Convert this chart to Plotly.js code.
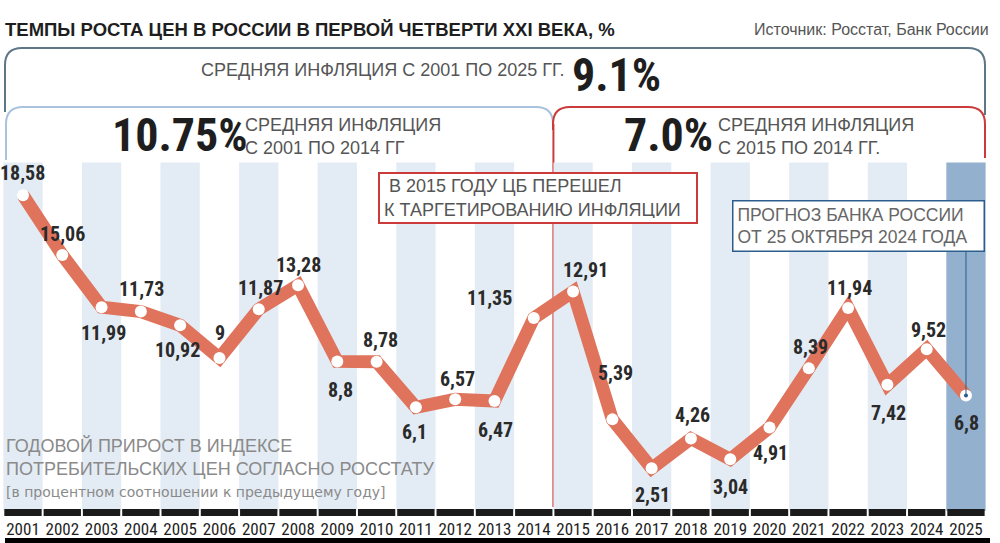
<!DOCTYPE html>
<html>
<head>
<meta charset="utf-8">
<script src="https://cdn.plot.ly/plotly-3.0.1.min.js"></script>
<style>html,body{margin:0;padding:0;background:#fff;}#chart{width:1000px;height:543px;}</style>
</head>
<body>
<div id="chart"></div>
<script>
// ---- DATA ----
const years = [2001, 2002, 2003, 2004, 2005, 2006, 2007, 2008, 2009, 2010, 2011, 2012, 2013,
               2014, 2015, 2016, 2017, 2018, 2019, 2020, 2021, 2022, 2023, 2024, 2025];
const cpiGrowth = [18.58, 15.06, 11.99, 11.73, 10.92, 9, 11.87, 13.28, 8.8, 8.78, 6.1, 6.57, 6.47,
                   11.35, 12.91, 5.39, 2.51, 4.26, 3.04, 4.91, 8.39, 11.94, 7.42, 9.52, 6.8];
const yearLabels = ["2001", "2002", "2003", "2004", "2005", "2006", "2007", "2008", "2009", "2010",
                    "2011", "2012", "2013", "2014", "2015", "2016", "2017", "2018", "2019", "2020",
                    "2021", "2022", "2023", "2024", "2025"];
const forecastYear = 2025;
const policyChangeYear = 2015;
const avgAll = "9.1%";
const avgFirst = "10.75%";
const avgSecond = "7.0%";

// ---- STYLE (label offsets in px, not data) ----
const labelDx = [0, 0, 2, 1, -3, 1, 2, 0, 3, 4, -1, 2, 1, -44, 12, 3, 1, 2, 0, 1, 2, 1, 1, 2, 1];
const labelDy = [22, 21, -26, 23, -25, 25, 21, 20, -29, 22, -25, 20, -29, 20, 22, 46, -27, 24, -28, -25, 21, 20, -28, 19, -28];

const NARROW = '"Liberation Sans Narrow", "Roboto Condensed", "DejaVu Sans Condensed", "Arial Narrow", sans-serif';
const SANS = '"Liberation Sans", Arial, sans-serif';
const WIDE = '"DejaVu Sans", "Liberation Sans", sans-serif';

const W = 1000, PLOT_H = 517;
const px = x => x / W;
const py = y => (PLOT_H - y) / PLOT_H;

const fmt = v => String(v).replace('.', ',');

const shapes = [];
// background bands
years.forEach((yr, i) => {
  if (yr === forecastYear) {
    shapes.push({type: 'rect', layer: 'below', xref: 'x', yref: 'y', x0: yr - 0.5, x1: yr + 0.5,
      y0: 0, y1: 20.5, fillcolor: '#93b0cf', line: {width: 0}});
  } else if (i % 2 === 0) {
    shapes.push({type: 'rect', layer: 'below', xref: 'x', yref: 'y', x0: yr - 0.5, x1: yr + 0.5,
      y0: 0, y1: 20.5, fillcolor: '#e3ecf4', line: {width: 0}});
  }
});
// policy change vertical red line
shapes.push({type: 'line', layer: 'below', xref: 'x', yref: 'paper',
  x0: policyChangeYear - 0.5, x1: policyChangeYear - 0.5, y0: py(507), y1: py(124),
  line: {color: '#cc3b3b', width: 2}});
// segmented black base bar
years.forEach(yr => {
  shapes.push({type: 'rect', layer: 'above', xref: 'x', yref: 'y', x0: yr - 0.475, x1: yr + 0.475,
    y0: -0.29, y1: 0.12, fillcolor: '#1b1b1b', line: {width: 0}});
});
// bottom black underline
shapes.push({type: 'rect', xref: 'paper', yref: 'paper', x0: px(5), x1: px(990), y0: py(543), y1: py(538),
  fillcolor: '#000', line: {width: 0}});
// forecast connector
shapes.push({type: 'line', layer: 'above', xref: 'x', yref: 'y', x0: forecastYear, x1: forecastYear,
  y0: cpiGrowth[cpiGrowth.length - 1], y1: 15.3, line: {color: '#2d5d8c', width: 1}});

// brackets (paths in paper coords)
function P(x, y) { return px(x).toFixed(5) + ',' + py(y).toFixed(5); }
const r = 17;
shapes.push({type: 'path', xref: 'paper', yref: 'paper', layer: 'below',
  path: 'M' + P(5, 112) + ' L' + P(5, 48 + r) + ' Q' + P(5, 48) + ' ' + P(5 + r, 48) +
        ' L' + P(985 - r, 48) + ' Q' + P(985, 48) + ' ' + P(985, 48 + r) + ' L' + P(985, 115),
  line: {color: '#5e7787', width: 2}});
shapes.push({type: 'path', xref: 'paper', yref: 'paper', layer: 'below',
  path: 'M' + P(6, 160) + ' L' + P(6, 107 + r) + ' Q' + P(6, 107) + ' ' + P(6 + r, 107) +
        ' L' + P(553 - r, 107) + ' Q' + P(553, 107) + ' ' + P(553, 107 + r),
  line: {color: '#a9c2dd', width: 2}});
shapes.push({type: 'path', xref: 'paper', yref: 'paper', layer: 'below',
  path: 'M' + P(553, 130) + ' L' + P(553, 107 + r) + ' Q' + P(553, 107) + ' ' + P(553 + r, 107) +
        ' L' + P(985 - r, 107) + ' Q' + P(985, 107) + ' ' + P(985, 107 + r) + ' L' + P(985, 158),
  line: {color: '#cc3b3b', width: 2}});

const annotations = [];
// value labels
years.forEach((yr, i) => {
  annotations.push({x: yr, y: cpiGrowth[i], xref: 'x', yref: 'y', text: fmt(cpiGrowth[i]),
    showarrow: false, xshift: labelDx[i], yshift: labelDy[i],
    font: {family: NARROW, size: 20, color: '#2a2a2a', weight: 'bold'}});
});
function txt(x, y, text, size, color, opts) {
  annotations.push(Object.assign({xref: 'paper', yref: 'paper', x: px(x), y: py(y), text: text,
    showarrow: false, xanchor: 'left', yanchor: 'middle', align: 'left',
    font: {family: SANS, size: size, color: color}}, opts || {}));
}
txt(3, 30, '<b>ТЕМПЫ РОСТА ЦЕН В РОССИИ В ПЕРВОЙ ЧЕТВЕРТИ XXI ВЕКА, %</b>', 18.5, '#1e1e1e');
txt(991, 30, 'Источник: Росстат, Банк России', 16, '#555', {xanchor: 'right'});
txt(199, 70, 'СРЕДНЯЯ ИНФЛЯЦИЯ С 2001 ПО 2025 ГГ.', 18, '#555');
txt(570, 75, '<b>' + avgAll + '</b>', 46, '#1e1e1e', {font: {family: NARROW, size: 46, color: '#1e1e1e'}});
txt(110, 135, '<b>' + avgFirst + '</b>', 46, '#1e1e1e', {font: {family: NARROW, size: 46, color: '#1e1e1e'}});
txt(243, 136, 'СРЕДНЯЯ ИНФЛЯЦИЯ<br>С 2001 ПО 2014 ГГ', 18, '#555');
txt(622, 135, '<b>' + avgSecond + '</b>', 46, '#1e1e1e', {font: {family: NARROW, size: 46, color: '#1e1e1e'}});
txt(716, 136, 'СРЕДНЯЯ ИНФЛЯЦИЯ<br>С 2015 ПО 2014 ГГ.', 18, '#555');
txt(4, 457, 'ГОДОВОЙ ПРИРОСТ В ИНДЕКСЕ<br>ПОТРЕБИТЕЛЬСКИХ ЦЕН СОГЛАСНО РОССТАТУ', 18, '#8a8a8a');
txt(4, 492, '[в процентном соотношении к предыдущему году]', 14, '#8a8a8a', {font: {family: WIDE, size: 14, color: '#8a8a8a'}});
// boxes
annotations.push({xref: 'paper', yref: 'paper', x: px(378), y: py(172), xanchor: 'left', yanchor: 'top',
  text: ' В 2015 ГОДУ ЦБ ПЕРЕШЕЛ<br>К ТАРГЕТИРОВАНИЮ ИНФЛЯЦИИ', showarrow: false, align: 'left',
  width: 308, height: 40, bgcolor: '#fff', bordercolor: '#cc3b3b', borderwidth: 2, borderpad: 4,
  font: {family: SANS, size: 18, color: '#555'}});
annotations.push({xref: 'paper', yref: 'paper', x: px(732), y: py(200), xanchor: 'left', yanchor: 'top',
  text: 'ПРОГНОЗ БАНКА РОССИИ<br>ОТ 25 ОКТЯБРЯ 2024 ГОДА', showarrow: false, align: 'left',
  width: 242, height: 41, bgcolor: '#fff', bordercolor: '#2d5d8c', borderwidth: 1.5, borderpad: 4,
  font: {family: SANS, size: 17.5, color: '#666'}});

const traces = [
  {x: years, y: cpiGrowth, type: 'scatter', mode: 'lines+markers', hoverinfo: 'skip',
   line: {color: '#df735c', width: 13},
   marker: {color: '#fff', size: 12, line: {width: 0}}},
  {x: [forecastYear], y: [cpiGrowth[cpiGrowth.length - 1]], type: 'scatter', mode: 'markers',
   hoverinfo: 'skip', marker: {color: '#2d5d8c', size: 4}}
];

const layout = {
  width: 1000, height: 543,
  margin: {l: 0, r: 0, t: 0, b: 26, pad: 0},
  paper_bgcolor: '#fff', plot_bgcolor: '#fff',
  showlegend: false,
  xaxis: {range: [2000.415, 2025.866], tickvals: years, ticktext: yearLabels, ticks: '',
    showgrid: false, zeroline: false, showline: false, automargin: false, fixedrange: true,
    tickfont: {family: NARROW, size: 17, color: '#1e1e1e'}},
  yaxis: {range: [-0.353, 30.059], visible: false, showgrid: false, zeroline: false, fixedrange: true},
  shapes: shapes,
  annotations: annotations
};

Plotly.newPlot('chart', traces, layout, {staticPlot: true, displayModeBar: false});
</script>
</body>
</html>
